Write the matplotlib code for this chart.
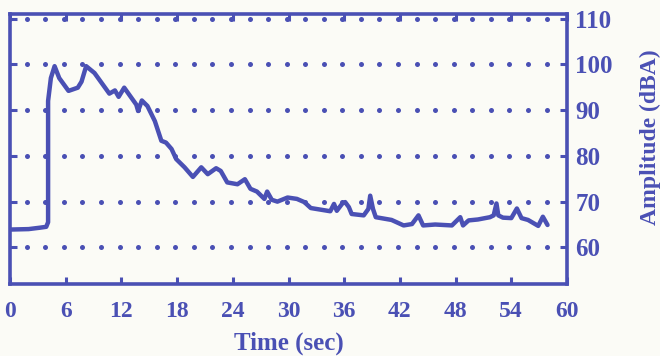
import numpy as np
import matplotlib
matplotlib.use("Agg")
import matplotlib.pyplot as plt

time_s = [0, 2, 3.2, 3.9, 4.1, 4.1, 4.4, 4.8, 5.3, 6.3,
          7.3, 7.7, 8.2, 9.1, 10.7, 11.3, 11.7, 12.3, 13.6, 13.8,
          14.2, 14.8, 15.6, 16.3, 16.8, 17.4, 17.9, 18.8, 19.7, 20.6,
          21.3, 22.2, 22.7, 23.4, 24.5, 25.3, 25.9, 26.6, 27.4, 27.7,
          28.2, 28.8, 29.9, 30.9, 31.7, 32.4, 33.6, 34.5, 34.9, 35.2,
          35.8, 36.1, 36.5, 36.8, 38.1, 38.6, 38.8, 39.1, 39.4, 41.1,
          42.4, 43.3, 44.0, 44.5, 45.8, 47.6, 48.5, 48.8, 49.4, 50.4,
          51.7, 52.1, 52.4, 52.6, 53.1, 54.0, 54.6, 55.1, 55.8, 56.9,
          57.4, 57.9]
amp_dba = [63.9, 64.0, 64.3, 64.5, 65.5, 92, 97, 99.6, 97, 94.2,
           94.9, 96.2, 99.6, 98.1, 93.6, 94.3, 92.9, 94.9, 91.2, 89.8,
           92.1, 90.9, 87.6, 83.3, 82.9, 81.5, 79.3, 77.5, 75.4, 77.5,
           76.0, 77.3, 76.7, 74.2, 73.8, 74.9, 72.8, 72.2, 70.6, 72.2,
           70.4, 70.0, 70.9, 70.6, 69.9, 68.6, 68.2, 67.9, 69.5, 68.0,
           69.6, 69.9, 68.8, 67.3, 67.0, 68.4, 71.3, 68.4, 66.6, 66.0,
           64.8, 65.1, 67.0, 64.8, 65.0, 64.8, 66.6, 64.8, 65.9, 66.1,
           66.6, 67.0, 69.6, 67.0, 66.5, 66.4, 68.5, 66.4, 66.0, 64.7,
           66.7, 64.9]
x_ticks = [0, 6, 12, 18, 24, 30, 36, 42, 48, 54, 60]
y_ticks = [60, 70, 80, 90, 100, 110]

BLUE = '#4a50b4'
BG = '#fbfbf6'
plt.rcParams['font.family'] = ['Liberation Serif', 'DejaVu Serif']
plt.rcParams['font.weight'] = 'bold'

fig = plt.figure(figsize=(6.6, 3.56), dpi=100, facecolor=BG)
ax = fig.add_axes([0.0152, 0.2022, 0.8439, 0.7585], facecolor=BG)

# dotted grid rows
dot_x = np.arange(1.8, 59, 2.0)
for yv in y_ticks:
    ax.plot(dot_x, [yv] * len(dot_x), 'o', ms=3.6, color=BLUE, mec='none', zorder=1)

ax.plot(time_s, amp_dba, color=BLUE, lw=3.2, solid_joinstyle='round', solid_capstyle='round', zorder=3)

ax.set_xlim(0, 60)
ax.set_ylim(52, 111)
for s in ax.spines.values():
    s.set_color(BLUE)
    s.set_linewidth(2.6)

ax.set_xticks(x_ticks)
ax.set_xticklabels([str(v) for v in x_ticks])
ax.set_yticks(y_ticks)
ax.set_yticklabels([str(v) for v in y_ticks])
ax.tick_params(axis='x', direction='in', length=5, width=2.2, color=BLUE, top=True,
               labelsize=17, labelcolor=BLUE, pad=12)
ax.tick_params(axis='y', direction='in', length=5, width=2.2, color=BLUE, left=True, right=True,
               labelleft=False, labelright=True, labelsize=18, labelcolor=BLUE, pad=6)
for lab in ax.get_xticklabels() + ax.get_yticklabels():
    lab.set_fontweight('bold')

fig.text(289 / 660, 1 - 343 / 356, 'Time (sec)', fontsize=18, fontweight='bold', color=BLUE,
         ha='center', va='center')
fig.text(650 / 660, 1 - 137 / 356, 'Amplitude (dBA)', fontsize=17, fontweight='bold', color=BLUE,
         ha='center', va='center', rotation=90)

fig.savefig('out.png', dpi=100, facecolor=BG)
